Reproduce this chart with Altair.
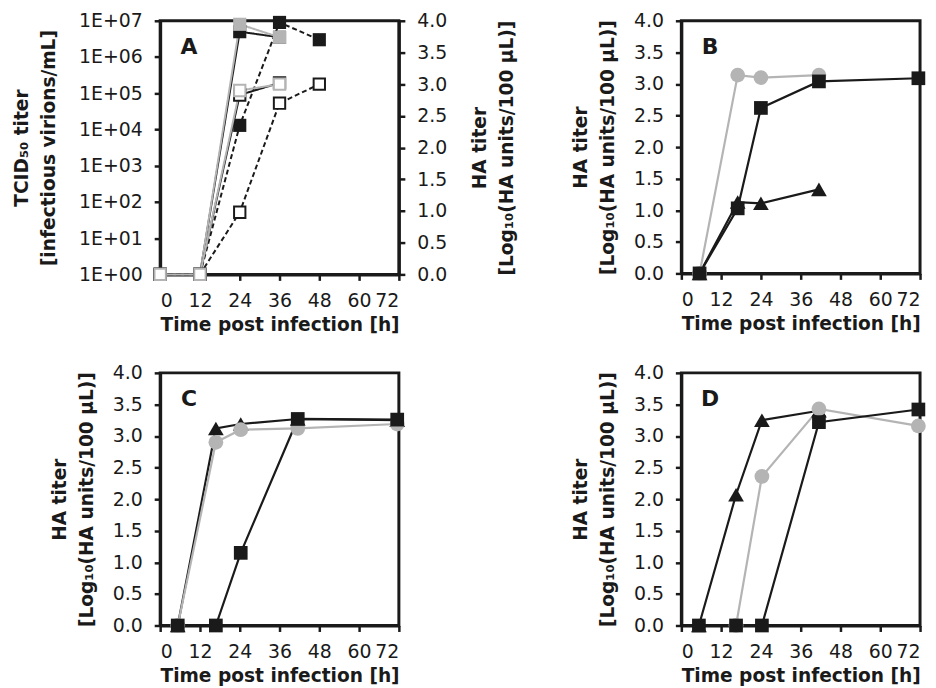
import altair as alt
import pandas as pd

FONT = "DejaVu Sans"
BLACK = "#1a1a1a"
GRAY = "#b4b4b4"

# ---------------- Panel A ----------------
A_time = [0, 12, 24, 36, 48]
# TCID50 titers (filled squares, left log axis)
A_tcid_black = [1, 1, 5.0e6, 3.5e6]
A_tcid_gray = [1, 1, 8.0e6, 3.5e6]
A_tcid_dashed = [1, 1, 1.3e4, 9.0e6, 3.0e6]
# HA titers (open squares, right axis)
A_ha_black = [0.0, 0.0, 2.83, 3.02]
A_ha_dashed = [0.0, 0.0, 0.98, 2.70, 3.00]
A_ha_gray = [0.0, 0.0, 2.90, 3.00]

# ---------------- Panel B ----------------
B_time = [5.5, 17, 24, 41.5, 71.5]
B_triangle = [0.0, 1.13, 1.11, 1.33]
B_circle = [0.0, 3.14, 3.10, 3.14]
B_square = [0.0, 1.03, 2.62, 3.04, 3.09]

# ---------------- Panel C ----------------
C_time = [5.3, 16.8, 24.3, 41.5, 71.5]
C_triangle = [0.0, 3.12, 3.19, 3.27, 3.25]
C_circle = [0.0, 2.90, 3.10, 3.12, 3.19]
C_square = [0.0, 0.0, 1.15, 3.27, 3.26]

# ---------------- Panel D ----------------
D_time = [5.3, 16.5, 24.3, 41.5, 71.5]
D_triangle = [0.0, 2.07, 3.25, 3.40]
D_circle_time = [16.5, 24.3, 41.5, 71.5]
D_circle = [0.0, 2.36, 3.43, 3.16]
D_square = [0.0, 0.0, 0.0, 3.22, 3.42]

X_TICKS = [0, 12, 24, 36, 48, 60, 72]
HA_TICKS = [0.0, 0.5, 1.0, 1.5, 2.0, 2.5, 3.0, 3.5, 4.0]
LOG_TICKS = [1, 10, 100, 1e3, 1e4, 1e5, 1e6, 1e7]
HA_TITLE = ["HA titer", "[Log\u2081\u2080(HA units/100 \u00b5L)]"]
X_TITLE = "Time post infection [h]"

W, H = 240, 254


def rows(times, vals, name):
    return pd.DataFrame({"t": list(times)[: len(vals)], "v": vals, "s": name})


# series styling
SERIES = ["tri", "circ", "sq", "A black", "A gray", "A dashed",
          "A HA black", "A HA dashed", "A HA gray"]
COLORS = [BLACK, GRAY, BLACK, BLACK, GRAY, BLACK, BLACK, BLACK, GRAY]
DASHES = [[1, 0], [1, 0], [1, 0], [1, 0], [1, 0], [5, 3], [1, 0], [5, 3], [1, 0]]
color_scale = alt.Scale(domain=SERIES, range=COLORS)
dash_scale = alt.Scale(domain=SERIES, range=DASHES)
shape_scale = alt.Scale(domain=["tri", "circ", "sq"], range=["triangle-up", "circle", "square"])
size_scale = alt.Scale(domain=["tri", "circ", "sq"], range=[250, 190, 205])

x_enc = alt.X("t:Q", scale=alt.Scale(domain=[0, 72], nice=False),
              axis=alt.Axis(values=X_TICKS, title=X_TITLE, labelPadding=11, titlePadding=5))


def letter(ch):
    return alt.Chart(pd.DataFrame({"lab": [ch]})).mark_text(
        font=FONT, fontSize=22, fontWeight="bold", color=BLACK, align="center", baseline="middle"
    ).encode(text="lab:N", x=alt.value(29), y=alt.value(26))


# ---------- Panel A chart ----------
dfAL = pd.concat([rows(A_time, A_tcid_black, "A black"),
                  rows(A_time, A_tcid_gray, "A gray"),
                  rows(A_time, A_tcid_dashed, "A dashed")])
dfAR = pd.concat([rows(A_time, A_ha_black, "A HA black"),
                  rows(A_time, A_ha_dashed, "A HA dashed"),
                  rows(A_time, A_ha_gray, "A HA gray")])

yL = alt.Y("v:Q", scale=alt.Scale(type="log", domain=[1, 1e7], nice=False),
           axis=alt.Axis(orient="left", values=LOG_TICKS,
                         labelExpr="'1E+0' + format(log(datum.value)/LN10, '.0f')",
                         title=["TCID\u2085\u2080 titer", "[infectious virions/mL]"],
                         titlePadding=20))
yR = alt.Y("v:Q", scale=alt.Scale(domain=[0, 4], nice=False),
           axis=alt.Axis(orient="right", values=HA_TICKS, format=".1f", title=HA_TITLE,
                         titleAngle=270, titlePadding=16))

baseL = alt.Chart(dfAL)
left_layer = alt.layer(
    baseL.mark_line(strokeWidth=2).encode(
        x=x_enc, y=yL, detail="s:N",
        color=alt.Color("s:N", scale=color_scale, legend=None),
        strokeDash=alt.StrokeDash("s:N", scale=dash_scale, legend=None)),
    baseL.mark_point(shape="square", filled=True, opacity=1, size=175).encode(
        x=x_enc, y=yL, color=alt.Color("s:N", scale=color_scale, legend=None)),
)
baseR = alt.Chart(dfAR)
right_layer = alt.layer(
    baseR.mark_line(strokeWidth=2).encode(
        x=x_enc, y=yR, detail="s:N",
        color=alt.Color("s:N", scale=color_scale, legend=None),
        strokeDash=alt.StrokeDash("s:N", scale=dash_scale, legend=None)),
    baseR.mark_point(shape="square", filled=True, opacity=1, size=130, strokeWidth=2).encode(
        x=x_enc, y=yR, fill=alt.value("white"),
        stroke=alt.Stroke("s:N", scale=color_scale, legend=None)),
)
panelA = alt.layer(left_layer, right_layer, letter("A")).resolve_scale(y="independent").properties(
    width=W, height=H + 1)


# ---------- Panels B, C, D ----------
def panel(ch, tri, circ, sq):
    df = pd.concat([tri, circ, sq])
    y_enc = alt.Y("v:Q", scale=alt.Scale(domain=[0, 4], nice=False),
                  axis=alt.Axis(values=HA_TICKS, format=".1f", title=HA_TITLE, titlePadding=16))
    base = alt.Chart(df)
    lines = base.mark_line(strokeWidth=2.2).encode(
        x=x_enc, y=y_enc, detail="s:N",
        color=alt.Color("s:N", scale=color_scale, legend=None))
    pts = base.mark_point(filled=True, opacity=1).encode(
        x=x_enc, y=y_enc,
        color=alt.Color("s:N", scale=color_scale, legend=None),
        shape=alt.Shape("s:N", scale=shape_scale, legend=None),
        size=alt.Size("s:N", scale=size_scale, legend=None))
    return alt.layer(lines, pts, letter(ch)).properties(width=W, height=H)


panelB = panel("B", rows(B_time, B_triangle, "tri"), rows(B_time, B_circle, "circ"),
               rows(B_time, B_square, "sq"))
panelC = panel("C", rows(C_time, C_triangle, "tri"), rows(C_time, C_circle, "circ"),
               rows(C_time, C_square, "sq"))
panelD = panel("D", rows(D_time, D_triangle, "tri"), rows(D_circle_time, D_circle, "circ"),
               rows(D_time, D_square, "sq"))

chart = alt.concat(panelA, panelB, panelC, panelD, columns=2,
                   spacing=alt.RowColnumber(row=26, column=52)).properties(
    padding={"left": 3, "top": 0, "right": 0, "bottom": 0}
).configure_view(stroke=BLACK, strokeWidth=3).configure_axis(
    labelFont=FONT, labelFontSize=19, labelColor=BLACK,
    titleFont=FONT, titleFontSize=18.7, titleFontWeight="bold", titleColor=BLACK,
    titleLineHeight=27,
    domainColor=BLACK, domainWidth=3, tickColor=BLACK, tickWidth=2.5, tickSize=6,
    grid=False, labelPadding=10,
).configure_axisY(labelPadding=12)

chart.save("out.html", embed_options={"renderer": "svg", "actions": False})
